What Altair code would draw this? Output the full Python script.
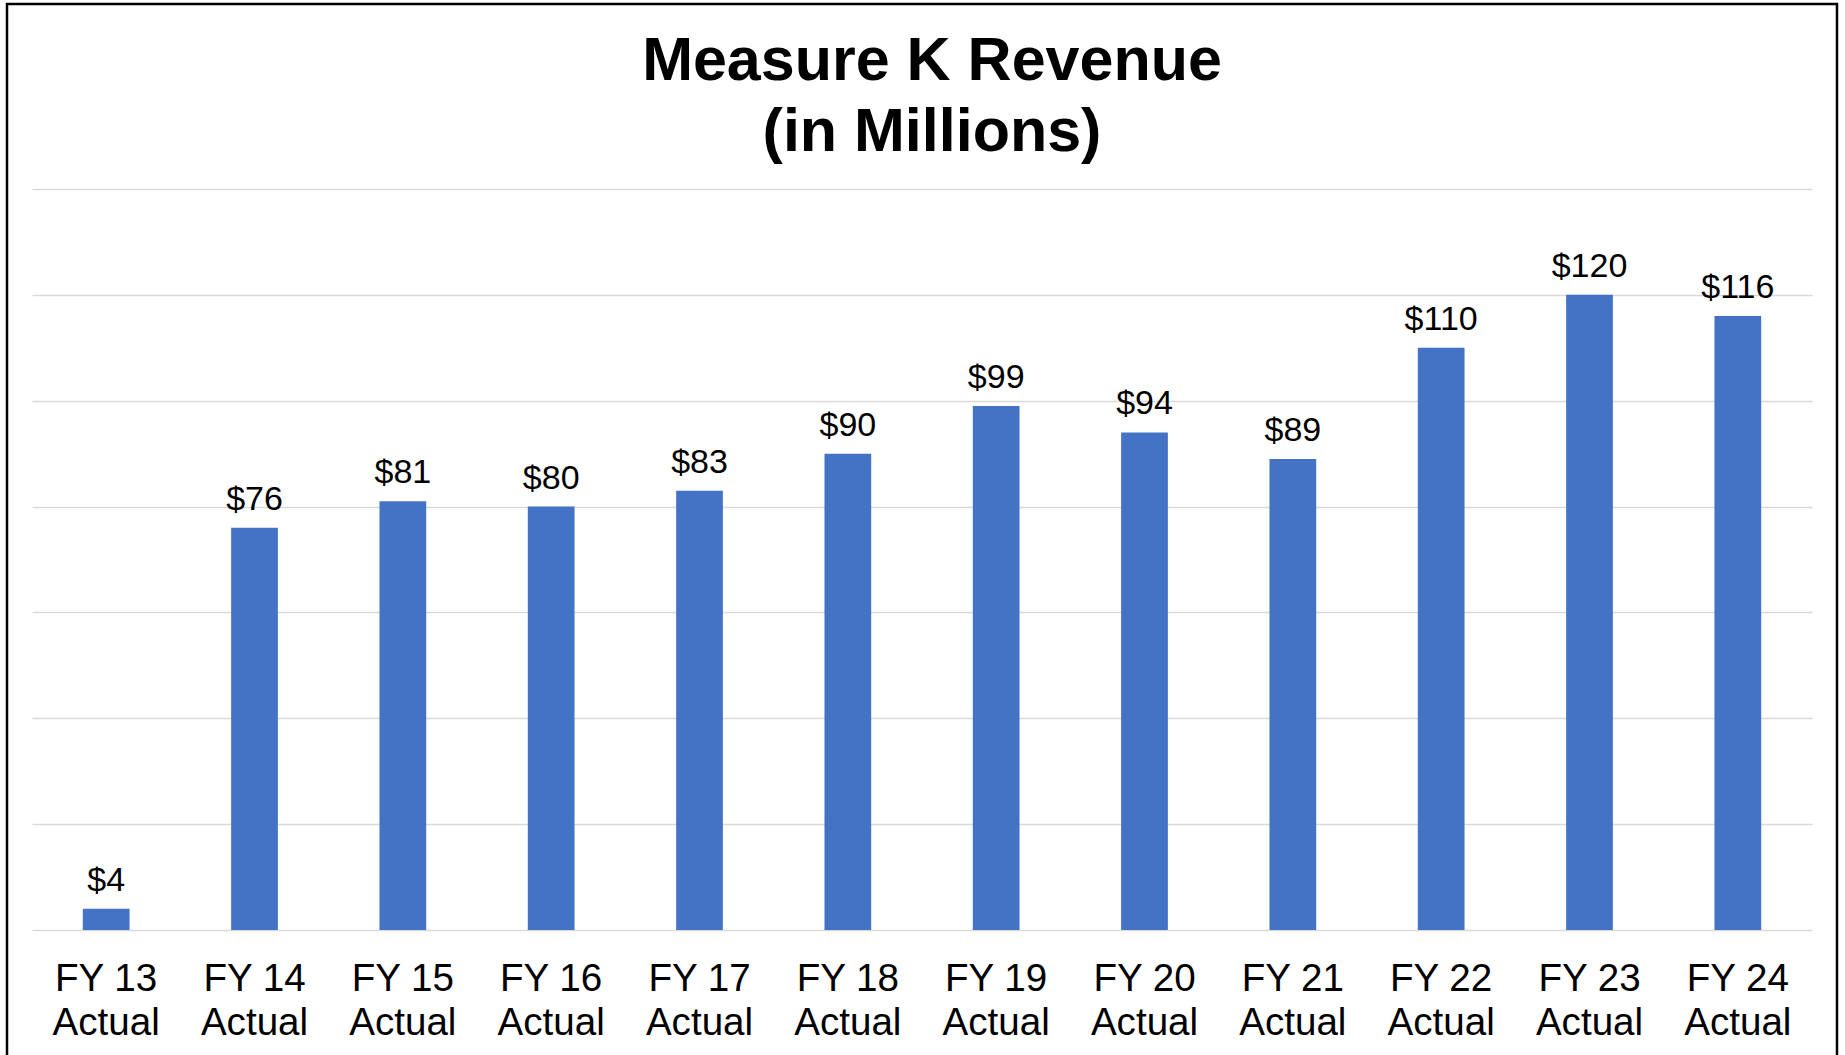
import altair as alt
import pandas as pd

fiscal_years = ["FY 13", "FY 14", "FY 15", "FY 16", "FY 17", "FY 18",
                "FY 19", "FY 20", "FY 21", "FY 22", "FY 23", "FY 24"]
label_suffix = "Actual"
revenue = [4, 76, 81, 80, 83, 90, 99, 94, 89, 110, 120, 116]
y_ticks = [0, 20, 40, 60, 80, 100, 120, 140]

categories = [f"{fy}\n{label_suffix}" for fy in fiscal_years]
df = pd.DataFrame({"cat": categories, "value": revenue,
                   "lbl": [f"${v}" for v in revenue]})

FONT = "Liberation Sans"
W, H = 1780, 741

x_enc = alt.X("cat:N", sort=categories, title=None,
              scale=alt.Scale(paddingInner=0.685, paddingOuter=0.3425),
              axis=alt.Axis(labelExpr="split(datum.label, '\\n')",
                            labelAngle=0, labelFont=FONT, labelFontSize=38.6,
                            labelColor="#000000", labelLineHeight=44,
                            labelPadding=30, ticks=False, domain=False,
                            grid=False))
y_enc = alt.Y("value:Q", title=None,
              scale=alt.Scale(domain=[0, 140], nice=False, zero=True),
              axis=alt.Axis(values=y_ticks, labels=False, ticks=False,
                            domain=False, grid=True, gridColor="#D9D9D9",
                            gridWidth=1.4))

bars = alt.Chart(df).mark_bar(color="#4472C4").encode(x=x_enc, y=y_enc)

labels = alt.Chart(df).mark_text(
    font=FONT, fontSize=34, color="#000000", align="center",
    baseline="alphabetic", dy=-18
).encode(x=alt.X("cat:N", sort=categories), y="value:Q", text="lbl:N")

border = alt.Chart(pd.DataFrame({"a": [0]})).mark_rect(
    filled=False, stroke="#000000", strokeWidth=2.5, clip=False
).encode(x=alt.value(-25), x2=alt.value(1805),
         y=alt.value(-185), y2=alt.value(900))

chart = alt.layer(bars, labels, border).properties(
    width=W, height=H,
    title=alt.Title(
        text=["Measure K Revenue", "(in Millions)"],
        font=FONT, fontSize=61, fontWeight="bold", color="#000000",
        anchor="middle", lineHeight=71, baseline="bottom",
        offset=-222, dx=10
    ),
    autosize=alt.AutoSizeParams(type="none"),
    padding={"left": 32, "top": 189, "right": 33, "bottom": 125},
    background="#FFFFFF"
).configure_view(stroke=None)

chart.save("out.html", embed_options={"renderer": "svg", "actions": False})
